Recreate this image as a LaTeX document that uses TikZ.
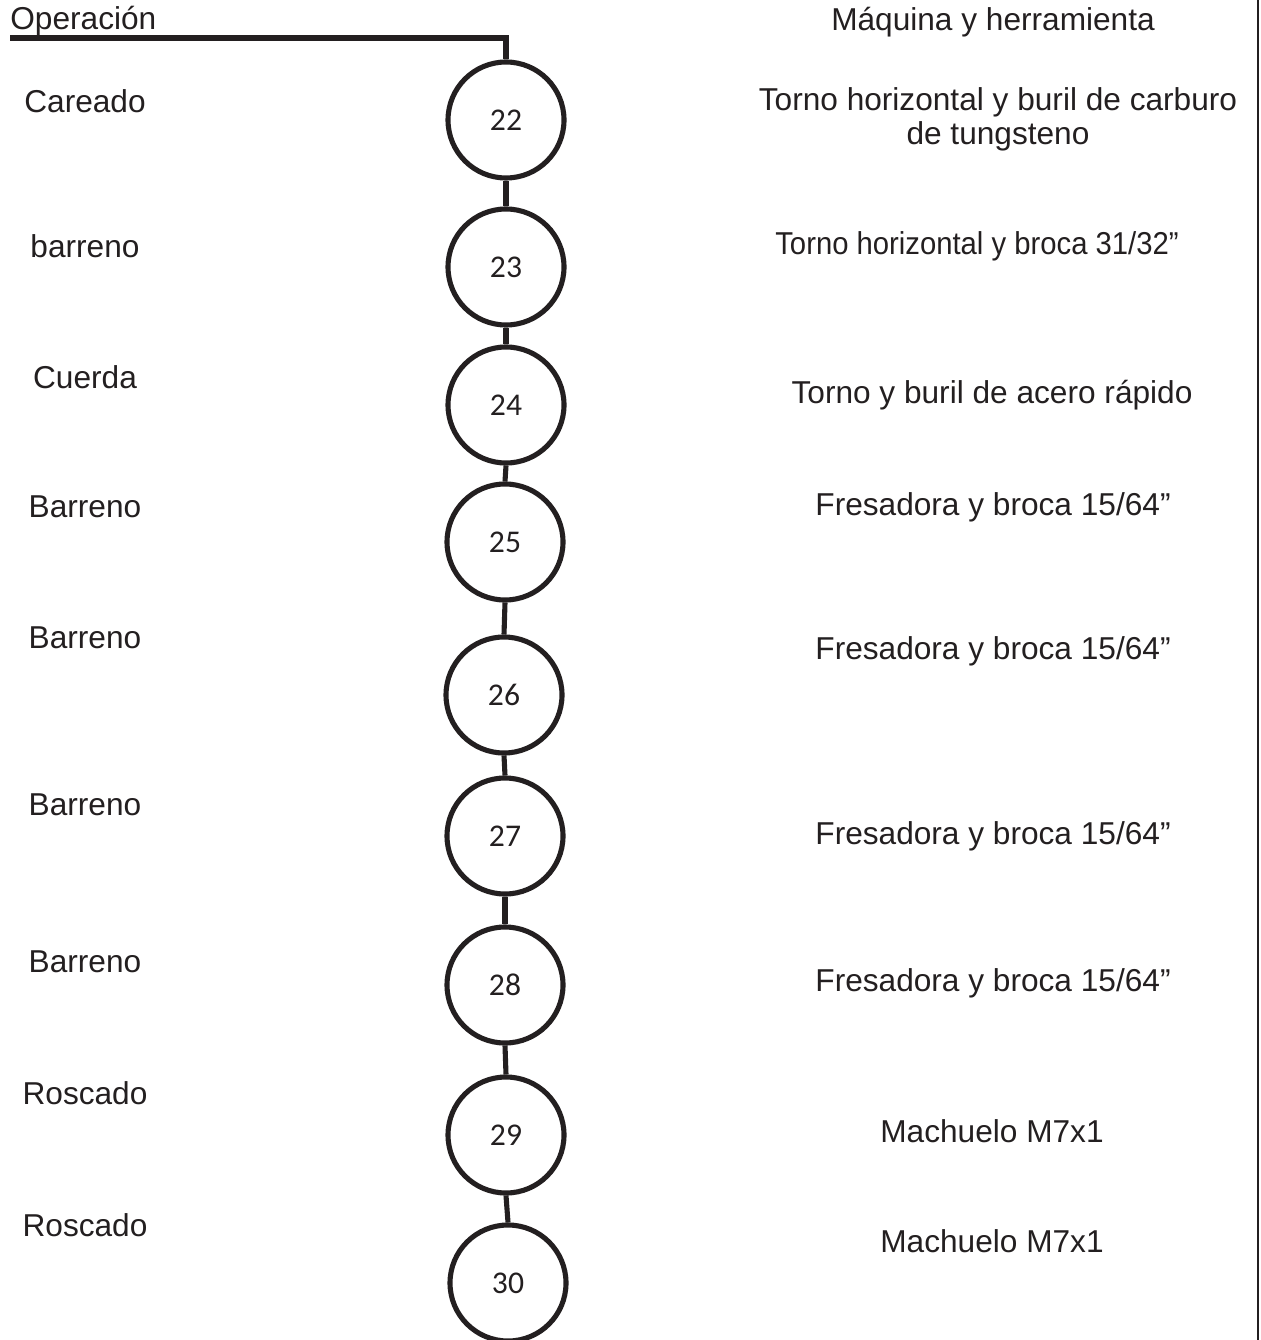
\documentclass[tikz,border=0pt]{standalone}
\usepackage{fontspec}
\setmainfont{Liberation Sans}
\newfontfamily\numfont{Carlito}
\newfontfamily\narrowfont[FakeStretch=0.925]{Liberation Sans}
\usetikzlibrary{positioning}
\definecolor{inkblack}{RGB}{35,31,32}

\tikzset{
  opstep/.style={circle, draw=inkblack, line width=2.9pt, minimum size=2.32cm, inner sep=0pt,
    font=\numfont\fontsize{18}{20}\selectfont, text=inkblack},
  oplabel/.style={font=\fontsize{18}{19.5}\selectfont, text=inkblack, inner sep=0pt},
  toollabel/.style={font=\fontsize{18}{19.5}\selectfont, text=inkblack, inner sep=0pt, align=center},
  linkline/.style={line width=2.9pt, color=inkblack}
}

\begin{document}
\begin{tikzpicture}
\useasboundingbox (0,0) rectangle (25.2,-26.8);
\draw[line width=1.1pt, color=inkblack] (25.16,0) -- (25.16,-26.8);

\node[oplabel, anchor=base west] (ophead) at (0.2,-0.6) {Operación};
\node[toollabel] (toolhead) at (19.86,-0.44) {Máquina y herramienta};

\node[opstep] (c22) at (10.12,-2.40) {22};
\node[opstep] (c23) at (10.12,-5.34) {23};
\node[opstep] (c24) at (10.12,-8.10) {24};
\node[opstep] (c25) at (10.10,-10.84) {25};
\node[opstep] (c26) at (10.08,-13.90) {26};
\node[opstep] (c27) at (10.10,-16.72) {27};
\node[opstep] (c28) at (10.10,-19.70) {28};
\node[opstep] (c29) at (10.12,-22.70) {29};
\node[opstep] (c30) at (10.16,-25.66) {30};

\coordinate (headstart) at (0.2,-0.76);
\draw[linkline] (headstart) -| (c22.north);
\draw[linkline] (c22.south) -- (c23.north);
\draw[linkline] (c23.south) -- (c24.north);
\draw[linkline] (c24.south) -- (c25.north);
\draw[linkline] (c25.south) -- (c26.north);
\draw[linkline] (c26.south) -- (c27.north);
\draw[linkline] (c27.south) -- (c28.north);
\draw[linkline] (c28.south) -- (c29.north);
\draw[linkline] (c29.south) -- (c30.north);

\node[oplabel] (op22) at (1.70,-2.02) {Careado};
\node[oplabel] (op23) at (1.70,-4.92) {barreno};
\node[oplabel] (op24) at (1.70,-7.54) {Cuerda};
\node[oplabel] (op25) at (1.70,-10.14) {Barreno};
\node[oplabel] (op26) at (1.70,-12.76) {Barreno};
\node[oplabel] (op27) at (1.70,-16.10) {Barreno};
\node[oplabel] (op28) at (1.70,-19.24) {Barreno};
\node[oplabel] (op29) at (1.70,-21.86) {Roscado};
\node[oplabel] (op30) at (1.70,-24.50) {Roscado};

\node[toollabel] (tool22) at (19.96,-2.38) {Torno horizontal y buril de carburo\\de tungsteno};
\node[toollabel, font=\narrowfont\fontsize{18}{19.5}\selectfont] (tool23) at (19.54,-4.92) {Torno horizontal y broca 31/32”};
\node[toollabel] (tool24) at (19.84,-7.90) {Torno y buril de acero rápido};
\node[toollabel] (tool25) at (19.86,-10.14) {Fresadora y broca 15/64”};
\node[toollabel] (tool26) at (19.86,-13.02) {Fresadora y broca 15/64”};
\node[toollabel] (tool27) at (19.86,-16.72) {Fresadora y broca 15/64”};
\node[toollabel] (tool28) at (19.86,-19.66) {Fresadora y broca 15/64”};
\node[toollabel] (tool29) at (19.84,-22.62) {Machuelo M7x1};
\node[toollabel] (tool30) at (19.84,-24.82) {Machuelo M7x1};
\end{tikzpicture}
\end{document}
